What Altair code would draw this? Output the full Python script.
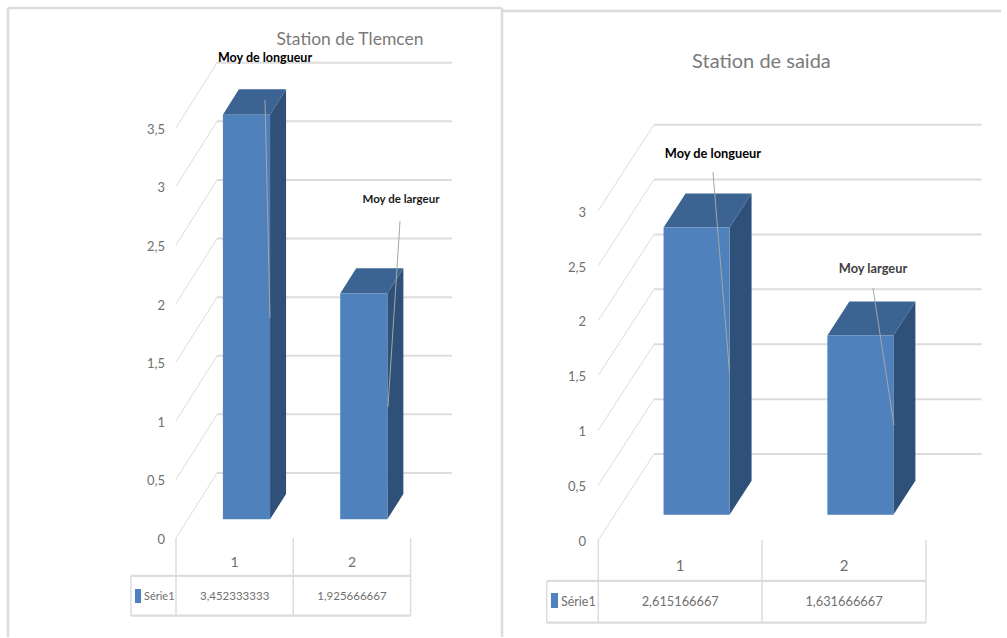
import altair as alt
import pandas as pd

# Mean measurements per station (categories 1 and 2 of the single series)
categories = ["1", "2"]
ticks_tlemcen = [0, 0.5, 1, 1.5, 2, 2.5, 3, 3.5]
ticks_saida = [0, 0.5, 1, 1.5, 2, 2.5, 3]
values_tlemcen = [3.452333333, 1.925666667]
values_saida = [2.615166667, 1.631666667]
series_name = "Série1"

FONT = "Lato"
FRONT = "#4f81bd"
TOP = "#3c6493"
SIDE = "#2f5179"
GRID = "#dcdcdc"
TEXT = "#6f6f6f"
PANEL_H = 637


def comma(v):
    return f"{v:.9f}".replace(".", ",")


def rules(df, x, y, width, color=GRID):
    return (
        alt.Chart(df)
        .mark_rule(color=color, strokeWidth=width)
        .encode(x=alt.X("x:Q", scale=x, axis=None), x2="x2:Q",
                y=alt.Y("y:Q", scale=y, axis=None), y2="y2:Q")
    )


def panel(values, ticks, title, notes, cfg):
    band, unit = cfg["band"], cfg["unit"]
    x0, y0 = cfg["x0"], cfg["y0"]
    w, h = cfg["width"], PANEL_H
    x = alt.Scale(domain=[-x0 / band, (w - x0) / band], nice=False, zero=False)
    y = alt.Scale(domain=[(y0 - h) / unit, y0 / unit], nice=False, zero=False)
    du, dv = cfg["du"], cfg["dv"]
    d0, d1 = cfg["d0"], cfg["d1"]
    pad = cfg["gap"]
    n = len(values)

    # Back wall and side wall of the plot box
    back = pd.DataFrame([{"x": du, "x2": n + du, "y": t + dv, "y2": t + dv} for t in ticks])
    side_wall = pd.DataFrame([{"x": 0, "x2": du, "y": t, "y2": t + dv} for t in ticks])

    # Data table under the plot
    hy, by = cfg["header"], cfg["bottom"]
    left = cfg["table_left"]
    table = pd.DataFrame(
        [{"x": i, "x2": i, "y": 0, "y2": by} for i in range(n + 1)]
        + [{"x": left, "x2": left, "y": hy, "y2": by}]
    )
    table_rows = pd.DataFrame(
        [{"x": left, "x2": n, "y": hy, "y2": hy},
         {"x": left, "x2": n, "y": by, "y2": by}]
    )

    # Three faces of each column
    front, top, side = [], [], []
    for i, v in enumerate(values):
        a, b = i + pad, i + 1 - pad
        front.append({"x": a + d0 * du, "x2": b + d0 * du, "y": d0 * dv, "y2": v + d0 * dv})
        top += [{"bar": i, "y": v + d0 * dv, "x": a + d0 * du, "x2": b + d0 * du},
                {"bar": i, "y": v + d1 * dv, "x": a + d1 * du, "x2": b + d1 * du}]
        side += [{"bar": i, "x": b + d0 * du, "y": d0 * dv, "y2": v + d0 * dv},
                 {"bar": i, "x": b + d1 * du, "y": d1 * dv, "y2": v + d1 * dv}]

    xq = alt.X("x:Q", scale=x, axis=None, stack=False)
    yq = alt.Y("y:Q", scale=y, axis=None, stack=False)
    top_faces = alt.Chart(pd.DataFrame(top)).mark_area(orient="horizontal", color=TOP).encode(
        y=yq, x=xq, x2="x2:Q", detail="bar:N")
    side_faces = alt.Chart(pd.DataFrame(side)).mark_area(orient="vertical", color=SIDE).encode(
        x=xq, y=yq, y2="y2:Q", detail="bar:N")
    front_faces = alt.Chart(pd.DataFrame(front)).mark_rect(color=FRONT).encode(
        x=xq, x2="x2:Q", y=yq, y2="y2:Q")

    def text(rows, **mark):
        return alt.Chart(pd.DataFrame(rows)).mark_text(font=FONT, baseline="middle", **mark).encode(
            x=xq, y=yq, text="label:N")

    tick_rows = [{"x": cfg["tick_x"], "y": t - 2 / unit, "label": str(t).replace(".", ",")} for t in ticks]
    cat_rows = [{"x": i + 0.5, "y": cfg["cat_y"], "label": c} for i, c in enumerate(categories)]
    val_rows = [{"x": i + 0.5, "y": cfg["val_y"], "label": comma(v)} for i, v in enumerate(values)]
    swatch = alt.Chart(pd.DataFrame([cfg["swatch"]])).mark_rect(color=FRONT).encode(
        x=xq, x2="x2:Q", y=yq, y2="y2:Q")

    # Callouts naming each column, with their leader lines
    leaders = pd.DataFrame([{k: m[k] for k in ("x", "x2", "y", "y2")} for m in notes])
    note_layers = [
        text([{"x": m["lx"], "y": m["ly"], "label": m["label"]}],
             fontSize=m["size"], fontWeight="bold", color=m["color"])
        for m in notes
    ]

    # Outer frame of the pasted chart
    frame = [
        alt.Chart(pd.DataFrame({"k": [0]})).mark_rule(color="#dcdcdc", strokeWidth=2.5).encode(
            x=alt.value(f[0]), x2=alt.value(f[1]), y=alt.value(f[2]), y2=alt.value(f[3]))
        for f in cfg["frame"]
    ]

    return alt.layer(
        *frame,
        rules(back, x, y, 2),
        rules(side_wall, x, y, 1),
        rules(table, x, y, 1.5),
        rules(table_rows, x, y, 2.2),
        top_faces, side_faces, front_faces,
        rules(leaders, x, y, 1, "#a6a6a6"),
        swatch,
        text(tick_rows, fontSize=cfg["tick_size"], color=TEXT, align="right"),
        text(cat_rows, fontSize=cfg["cat_size"], color=TEXT),
        text(val_rows, fontSize=cfg["val_size"], color=TEXT),
        text([{"x": cfg["legend_x"], "y": cfg["val_y"], "label": series_name}],
             fontSize=cfg["legend_size"], color=TEXT, align="left"),
        text([{"x": cfg["title_x"], "y": cfg["title_y"], "label": title}],
             fontSize=cfg["title_size"], color="#7a7a7a"),
        *note_layers,
    ).properties(width=w, height=h)


tlemcen = panel(
    values_tlemcen, ticks_tlemcen, "Station de Tlemcen",
    [
        {"label": "Moy de longueur", "lx": 0.759, "ly": 4.096, "size": 12.5, "color": "#000000",
         "x": 0.759, "y": 3.737, "x2": 0.801, "y2": 1.877},
        {"label": "Moy de largeur", "lx": 1.918, "ly": 2.884, "size": 11.5, "color": "#1a1a1a",
         "x": 1.91, "y": 2.705, "x2": 1.807, "y2": 1.118},
    ],
    dict(width=496, band=117.3, unit=117.2, x0=176, y0=538, du=0.35, dv=0.555,
         d0=0.288, d1=0.678, gap=0.299, tick_x=-0.094, tick_size=13,
         header=-0.324, bottom=-0.663, table_left=-0.384, cat_y=-0.213, val_y=-0.503,
         cat_size=14, val_size=11.5, legend_size=11, legend_x=-0.273,
         swatch={"x": -0.35, "x2": -0.298, "y": -0.435, "y2": -0.555},
         title_x=1.483, title_y=4.25, title_size=17.5,
         frame=[(8, 496, 8, 8), (8, 8, 8, PANEL_H)]),
)

saida = panel(
    values_saida, ticks_saida, "Station de saida",
    [
        {"label": "Moy de longueur", "lx": 0.7, "ly": 3.515, "size": 12.8, "color": "#000000",
         "x": 0.7, "y": 3.352, "x2": 0.801, "y2": 1.53},
        {"label": "Moy largeur", "lx": 1.677, "ly": 2.468, "size": 12.8, "color": "#404040",
         "x": 1.677, "y": 2.295, "x2": 1.805, "y2": 1.047},
    ],
    dict(width=505, band=163.8, unit=109.8, x0=102.3, y0=540, du=0.34, dv=0.783,
         d0=0.294, d1=0.689, gap=0.2985, tick_x=-0.075, tick_size=13,
         header=-0.373, bottom=-0.753, table_left=-0.315, cat_y=-0.237, val_y=-0.565,
         cat_size=15, val_size=12.8, legend_size=12.5, legend_x=-0.228,
         swatch={"x": -0.289, "x2": -0.246, "y": -0.483, "y2": -0.619},
         title_x=0.996, title_y=4.353, title_size=20,
         frame=[(0, 6, 8, 8), (6, 6, 8, PANEL_H), (6, 505, 11, 11)]),
)

chart = (
    alt.hconcat(tlemcen, saida, spacing=0, bounds="flush")
    .properties(padding=0, background="white")
    .configure_view(stroke=None)
)
chart.save("out.html", embed_options={"renderer": "svg", "actions": False})
